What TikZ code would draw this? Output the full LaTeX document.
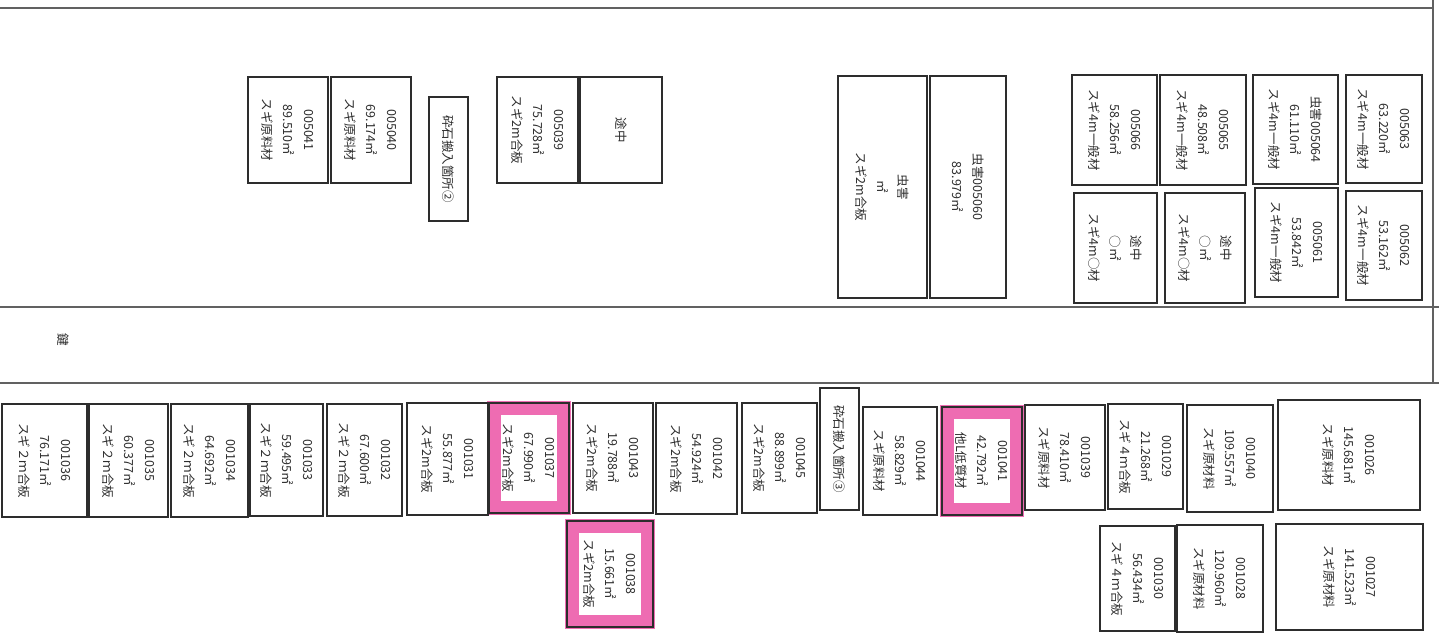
\documentclass[tikz,border=0pt]{standalone}
\usepackage{fontspec}
\setmainfont{Noto Sans CJK JP}
\usepackage{tikz}
\definecolor{markpink}{RGB}{238,108,178}
\definecolor{inkgray}{RGB}{45,45,45}
\tikzset{
  lot/.style={draw=inkgray,line width=1.2bp,rotate=-90,align=center,inner sep=0pt,
    text=inkgray,font=\fontsize{12.5bp}{21bp}\selectfont},
  hilite/.style={draw=markpink,line width=14bp,inner sep=0pt},
  frame/.style={draw=inkgray!75,line width=1.4bp}
}

\begin{document}
\begin{tikzpicture}

\useasboundingbox (0bp,0bp) rectangle (1439bp,-637bp);
\draw[frame] (0bp,-8bp) -- (1433bp,-8bp);
\draw[frame] (1433bp,0bp) -- (1433bp,-383bp);
\draw[frame] (0bp,-307bp) -- (1439bp,-307bp);
\draw[frame] (0bp,-383bp) -- (1439bp,-383bp);
\node (key) at (63bp,-340bp)[rotate=-90,text=inkgray,font=\fontsize{12.5bp}{21bp}\selectfont] {鍵};

\node (n005041) at (288bp,-130bp)[lot,minimum width=106bp,minimum height=80bp] {005041\\89.510㎡\\スギ原料材};
\node (n005040) at (371bp,-130bp)[lot,minimum width=106bp,minimum height=80bp] {005040\\69.174㎡\\スギ原料材};
\node (gate2) at (448.5bp,-159bp)[lot,minimum width=124bp,minimum height=39bp] {砕石搬入箇所②};
\node (n005039) at (537.5bp,-130bp)[lot,minimum width=106bp,minimum height=81bp] {005039\\75.728㎡\\スギ2m合板};
\node (tochuA) at (621bp,-130bp)[lot,minimum width=106bp,minimum height=82bp] {途中};
\node (mushiA) at (882.5bp,-187bp)[lot,minimum width=222bp,minimum height=89bp] {虫害\\㎡\\スギ2m合板};
\node (n005060) at (968bp,-187bp)[lot,minimum width=222bp,minimum height=76bp] {虫害005060\\83.979㎡};
\node (n005066) at (1114.5bp,-130bp)[lot,minimum width=110bp,minimum height=85bp] {005066\\58.256㎡\\スギ4m一般材};
\node (n005065) at (1203bp,-130bp)[lot,minimum width=110bp,minimum height=86bp] {005065\\48.508㎡\\スギ4m一般材};
\node (tochuB) at (1115.5bp,-248bp)[lot,minimum width=110bp,minimum height=83bp] {途中\\○㎡\\スギ4m○材};
\node (tochuC) at (1205bp,-248bp)[lot,minimum width=110bp,minimum height=80bp] {途中\\○㎡\\スギ4m○材};
\node (n005064) at (1295.5bp,-129.5bp)[lot,minimum width=109bp,minimum height=85bp] {虫害005064\\61.110㎡\\スギ4m一般材};
\node (n005063) at (1384bp,-129bp)[lot,minimum width=108bp,minimum height=76bp] {005063\\63.220㎡\\スギ4m一般材};
\node (n005061) at (1296.5bp,-242.5bp)[lot,minimum width=109bp,minimum height=83bp] {005061\\53.842㎡\\スギ4m一般材};
\node (n005062) at (1384bp,-245.5bp)[lot,minimum width=109bp,minimum height=76bp] {005062\\53.162㎡\\スギ4m一般材};

\node (hl001037) at (529bp,-458bp)[hilite,minimum width=70bp,minimum height=100bp] {};
\node (hl001038) at (610bp,-574bp)[hilite,minimum width=76bp,minimum height=96bp] {};
\node (hl001041) at (982bp,-461bp)[hilite,minimum width=70bp,minimum height=98bp] {};

\node (n001036) at (44.5bp,-460.5bp)[lot,minimum width=113bp,minimum height=85bp] {001036\\76.171㎡\\スギ２ｍ合板};
\node (n001035) at (128.5bp,-460.5bp)[lot,minimum width=113bp,minimum height=79bp] {001035\\60.377㎡\\スギ２ｍ合板};
\node (n001034) at (209.5bp,-460.5bp)[lot,minimum width=113bp,minimum height=77bp] {001034\\64.692㎡\\スギ２ｍ合板};
\node (n001033) at (286.5bp,-460bp)[lot,minimum width=112bp,minimum height=73bp] {001033\\59.495㎡\\スギ２ｍ合板};
\node (n001032) at (364.5bp,-460bp)[lot,minimum width=112bp,minimum height=75bp] {001032\\67.600㎡\\スギ２ｍ合板};
\node (n001031) at (447.5bp,-459bp)[lot,minimum width=112bp,minimum height=81bp] {001031\\55.877㎡\\スギ2m合板};
\node (n001037) at (529bp,-458bp)[lot,minimum width=110bp,minimum height=80bp] {001037\\67.990㎡\\スギ2m合板};
\node (n001043) at (613bp,-458bp)[lot,minimum width=110bp,minimum height=80bp] {001043\\19.788㎡\\スギ2m合板};
\node (n001042) at (696.5bp,-458.5bp)[lot,minimum width=111bp,minimum height=81bp] {001042\\54.924㎡\\スギ2m合板};
\node (n001038) at (610bp,-574bp)[lot,minimum width=106bp,minimum height=86bp] {001038\\15.661㎡\\スギ2m合板};
\node (n001045) at (779.5bp,-458bp)[lot,minimum width=110bp,minimum height=75bp] {001045\\88.899㎡\\スギ2m合板};
\node (gate3) at (839.5bp,-449bp)[lot,minimum width=122bp,minimum height=39bp] {砕石搬入箇所③};
\node (n001044) at (900bp,-461bp)[lot,minimum width=108bp,minimum height=74bp] {001044\\58.829㎡\\スギ原料材};
\node (n001041) at (982bp,-461bp)[lot,minimum width=108bp,minimum height=80bp] {001041\\42.792㎡\\他L低質材};
\node (n001039) at (1065bp,-457.5bp)[lot,minimum width=105bp,minimum height=80bp] {001039\\78.410㎡\\スギ原料材};
\node (n001029) at (1145.5bp,-456.5bp)[lot,minimum width=105bp,minimum height=75bp] {001029\\21.268㎡\\スギ４ｍ合板};
\node (n001040) at (1230bp,-458.5bp)[lot,minimum width=107bp,minimum height=86bp] {001040\\109.557㎡\\スギ原材料};
\node (n001026) at (1349bp,-455bp)[lot,minimum width=110bp,minimum height=142bp] {001026\\145.681㎡\\スギ原料材};
\node (n001030) at (1137.5bp,-578.5bp)[lot,minimum width=105bp,minimum height=75bp] {001030\\56.434㎡\\スギ４ｍ合板};
\node (n001028) at (1220bp,-578.5bp)[lot,minimum width=107bp,minimum height=86bp] {001028\\120.960㎡\\スギ原材料};
\node (n001027) at (1349.5bp,-577bp)[lot,minimum width=106bp,minimum height=147bp] {001027\\141.523㎡\\スギ原材料};
\end{tikzpicture}
\end{document}
